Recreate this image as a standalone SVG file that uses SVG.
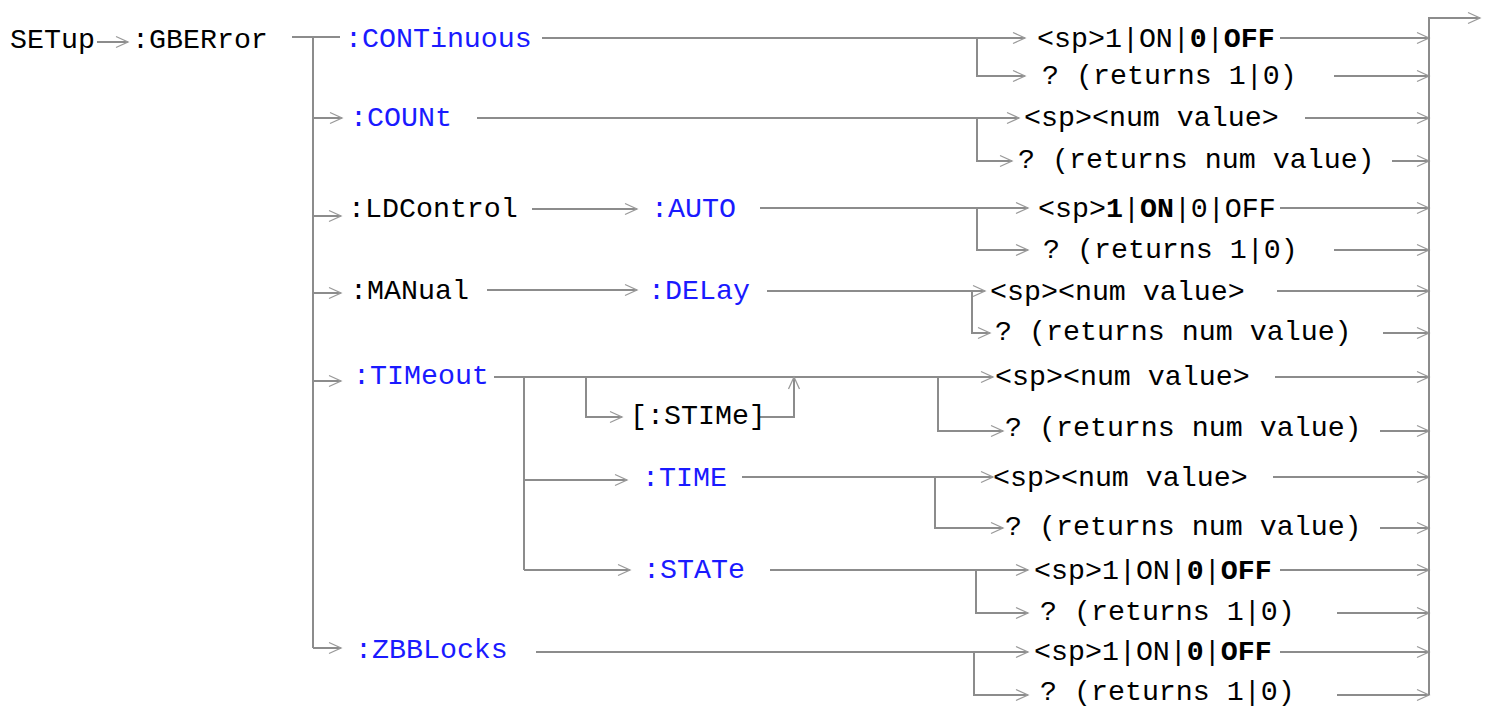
<svg xmlns="http://www.w3.org/2000/svg" width="1492" height="708" viewBox="0 0 1492 708">
<style>
text{font-family:"Liberation Mono","Courier New",monospace;font-size:28.3px;fill:#000}
.b{fill:#1a1aff}
.w{font-weight:bold}
.c path{fill:none;stroke:#8c8c8c;stroke-width:2}
.c path.a{marker-end:url(#ah)}
</style>
<defs>
<marker id="ah" viewBox="0 0 14 14" markerUnits="userSpaceOnUse" markerWidth="14" markerHeight="14" refX="13" refY="7" orient="auto" overflow="visible">
<path d="M1,1.5 L13,7 L1,12.5" fill="none" stroke="#9a9a9a" stroke-width="1.3"/>
</marker>
</defs>
<rect width="1492" height="708" fill="#fff"/>
<g id="connectors" class="c">
<path class="a" d="M97,42 H128"/>
<path d="M292,37 H340"/>
<path d="M313,37 V648"/>
<path class="a" d="M313,118 H342"/>
<path class="a" d="M313,216 H341"/>
<path class="a" d="M313,293 H341"/>
<path class="a" d="M313,381 H341"/>
<path class="a" d="M313,648 H341"/>
<path class="a" d="M542,38 H1025"/>
<path class="a" d="M977,38 V76 H1025"/>
<path class="a" d="M1280,38 H1429"/>
<path class="a" d="M1334,76 H1429"/>
<path class="a" d="M477,118 H1019"/>
<path class="a" d="M977,118 V161 H1012"/>
<path class="a" d="M1305,118 H1429"/>
<path class="a" d="M1392,161 H1429"/>
<path class="a" d="M532,209 H637"/>
<path class="a" d="M760,208 H1028"/>
<path class="a" d="M977,208 V250 H1028"/>
<path class="a" d="M1280,208 H1429"/>
<path class="a" d="M1334,250 H1429"/>
<path class="a" d="M487,290 H637"/>
<path class="a" d="M767,291 H985"/>
<path class="a" d="M972,291 V333 H990"/>
<path class="a" d="M1277,291 H1429"/>
<path class="a" d="M1383,333 H1429"/>
<path class="a" d="M494,377 H993"/>
<path d="M524,377 V570"/>
<path class="a" d="M586,377 V417 H622"/>
<path class="a" d="M760,417 H794 V377"/>
<path class="a" d="M938,377 V431 H1003"/>
<path class="a" d="M1275,377 H1429"/>
<path class="a" d="M1380,431 H1429"/>
<path class="a" d="M524,480 H627"/>
<path class="a" d="M742,477 H993"/>
<path class="a" d="M935,477 V528 H1003"/>
<path class="a" d="M1273,477 H1429"/>
<path class="a" d="M1380,528 H1429"/>
<path class="a" d="M524,570 H630"/>
<path class="a" d="M770,570 H1028"/>
<path class="a" d="M976,570 V613 H1028"/>
<path class="a" d="M1280,570 H1429"/>
<path class="a" d="M1337,613 H1429"/>
<path class="a" d="M536,652 H1028"/>
<path class="a" d="M974,652 V695 H1028"/>
<path class="a" d="M1280,652 H1429"/>
<path class="a" d="M1337,695 H1429"/>
<path class="a" d="M1429,695 V18 H1480"/>
</g>
<g id="n-setup"><text x="10" y="48">SETup</text></g>
<g id="n-gberror"><text x="132" y="48">:GBERror</text></g>
<g id="n-continuous"><text class="b" x="345" y="47">:CONTinuous</text></g>
<g id="n-cont-set"><text x="1037" y="47">&lt;sp&gt;1|ON|<tspan class="w">0</tspan>|<tspan class="w">OFF</tspan></text></g>
<g id="n-cont-q"><text x="1042" y="84">? (returns 1|0)</text></g>
<g id="n-count"><text class="b" x="350" y="126">:COUNt</text></g>
<g id="n-count-set"><text x="1024" y="126">&lt;sp&gt;&lt;num value&gt;</text></g>
<g id="n-count-q"><text x="1018" y="168">? (returns num value)</text></g>
<g id="n-ldcontrol"><text x="348" y="217">:LDControl</text></g>
<g id="n-auto"><text class="b" x="651" y="217">:AUTO</text></g>
<g id="n-auto-set"><text x="1038" y="217">&lt;sp&gt;<tspan class="w">1</tspan>|<tspan class="w">ON</tspan>|0|OFF</text></g>
<g id="n-auto-q"><text x="1043" y="258">? (returns 1|0)</text></g>
<g id="n-manual"><text x="350" y="299">:MANual</text></g>
<g id="n-delay"><text class="b" x="648" y="299">:DELay</text></g>
<g id="n-delay-set"><text x="990" y="300">&lt;sp&gt;&lt;num value&gt;</text></g>
<g id="n-delay-q"><text x="995" y="340">? (returns num value)</text></g>
<g id="n-timeout"><text class="b" x="353" y="384">:TIMeout</text></g>
<g id="n-stime"><text x="630" y="424">[:STIMe]</text></g>
<g id="n-timeout-set"><text x="995" y="385">&lt;sp&gt;&lt;num value&gt;</text></g>
<g id="n-timeout-q"><text x="1005" y="436">? (returns num value)</text></g>
<g id="n-time"><text class="b" x="642" y="486">:TIME</text></g>
<g id="n-time-set"><text x="993" y="486">&lt;sp&gt;&lt;num value&gt;</text></g>
<g id="n-time-q"><text x="1005" y="535">? (returns num value)</text></g>
<g id="n-state"><text class="b" x="643" y="578">:STATe</text></g>
<g id="n-state-set"><text x="1034" y="579">&lt;sp&gt;1|ON|<tspan class="w">0</tspan>|<tspan class="w">OFF</tspan></text></g>
<g id="n-state-q"><text x="1040" y="620">? (returns 1|0)</text></g>
<g id="n-zbblocks"><text class="b" x="355" y="658">:ZBBLocks</text></g>
<g id="n-zbb-set"><text x="1034" y="660">&lt;sp&gt;1|ON|<tspan class="w">0</tspan>|<tspan class="w">OFF</tspan></text></g>
<g id="n-zbb-q"><text x="1040" y="700">? (returns 1|0)</text></g>
</svg>
